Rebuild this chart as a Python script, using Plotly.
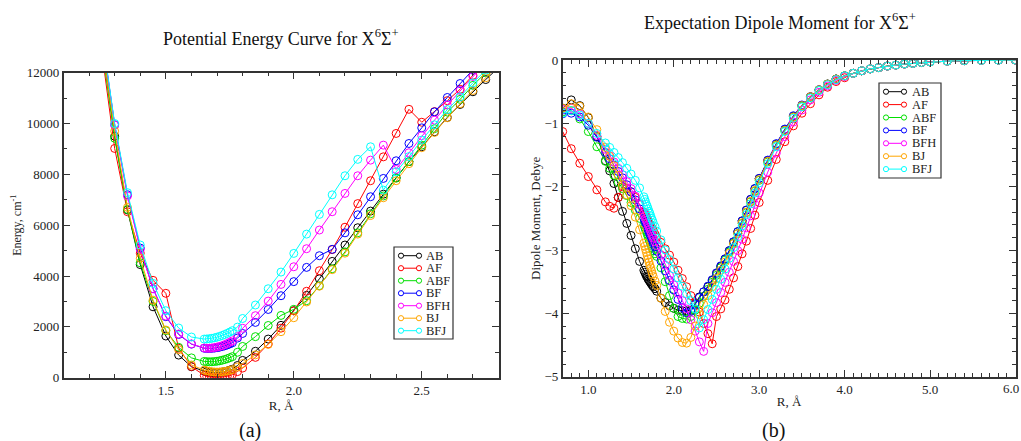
import plotly.graph_objects as go

# ---------------- data: potential energy curves (cm^-1) ----------------
R_energy = [1.25, 1.3, 1.35, 1.4, 1.45, 1.5, 1.55, 1.6,
            1.65, 1.66, 1.67, 1.68, 1.69, 1.70, 1.71, 1.72, 1.73, 1.74, 1.75, 1.76, 1.78, 1.8,
            1.85, 1.9, 1.95, 2.0, 2.05, 2.1, 2.15, 2.2, 2.25, 2.3, 2.35, 2.4, 2.45, 2.5,
            2.55, 2.6, 2.65, 2.7, 2.75, 2.8]

E_AB = [13200, 9500, 6600, 4450, 2790, 1640, 890, 430,
        260, 235, 218, 205, 200, 200, 207, 220, 240, 265, 298, 335, 480, 680,
        1040, 1520, 2060, 2635, 3240, 3890, 4575, 5220, 5900, 6555, 7220, 7870, 8500, 9085,
        9675, 10240, 10750, 11250, 11730, 12200]
E_AF = [12800, 9020, 6530, 4900, 3830, 3320, 1160, 440,
        90, 50, 25, 10, 2, 0, 5, 15, 30, 55, 85, 120, 240, 380,
        800, 1330, 1950, 2630, 3400, 4210, 5040, 5920, 6850, 7750, 8690, 9610, 10560, 10050,
        10470, 10900, 11350, 11900, 12450, 13000]
E_ABF = [13000, 9420, 6620, 4520, 3000, 1850, 1195, 780,
         640, 630, 625, 628, 635, 648, 665, 688, 715, 748, 785, 828, 1000, 1230,
         1615, 2055, 2450, 2690, 3030, 3620, 4285, 4950, 5700, 6450, 7150, 7850, 8500, 9150,
         9800, 10450, 10950, 11500, 12000, 12500]
E_BF = [13500, 9950, 7200, 5100, 3500, 2400, 1700, 1320,
        1160, 1150, 1150, 1155, 1165, 1180, 1200, 1225, 1255, 1290, 1330, 1375, 1560, 1740,
        2175, 2685, 3225, 3780, 4340, 4800, 5050, 5700, 6410, 7120, 7840, 8535, 9215, 9830,
        10460, 11025, 11575, 12100, 12650, 13200]
E_BFH = [13450, 9940, 7150, 5050, 3500, 2425, 1720, 1330,
         1170, 1160, 1160, 1170, 1185, 1205, 1230, 1260, 1300, 1345, 1395, 1450, 1620, 1945,
         2440, 3015, 3670, 4365, 5075, 5810, 6530, 7250, 7945, 8560, 9150, 8195, 8850, 9520,
         10135, 10725, 11300, 11850, 12400, 12950]
E_BJ = [13100, 9700, 6700, 4700, 3050, 1875, 1100, 500,
        300, 270, 250, 235, 225, 222, 225, 233, 247, 265, 290, 318, 420, 560,
        900, 1310, 1810, 2360, 2980, 3600, 4250, 4900, 5650, 6380, 7080, 7750, 8420, 9050,
        9650, 10230, 10780, 11300, 11800, 12300]
E_BFJ = [13550, 10000, 7280, 5220, 3710, 2635, 1955, 1600,
         1520, 1525, 1535, 1550, 1570, 1595, 1625, 1660, 1700, 1745, 1795, 1850, 1990, 2330,
         2860, 3500, 4155, 4890, 5650, 6425, 7195, 7945, 8590, 9085, 7380, 8100, 8700, 9350,
         9950, 10550, 11050, 11600, 12100, 12600]

# ---------------- data: dipole moment (Debye) ----------------
R_dipole = [0.7, 0.8, 0.9, 1.0, 1.1, 1.2, 1.25, 1.3, 1.35, 1.4, 1.45, 1.5, 1.55, 1.6,
            1.65, 1.66, 1.67, 1.68, 1.69, 1.70, 1.71, 1.72, 1.73, 1.74, 1.75, 1.76, 1.78, 1.8,
            1.85, 1.9, 1.95, 2.0, 2.05, 2.1, 2.15, 2.2, 2.25, 2.3, 2.35, 2.4, 2.45, 2.5,
            2.55, 2.6, 2.65, 2.7, 2.75, 2.8, 2.85, 2.9, 2.95, 3.0,
            3.1, 3.2, 3.3, 3.4, 3.5, 3.6, 3.7, 3.8, 3.9, 4.0,
            4.1, 4.2, 4.3, 4.4, 4.5, 4.6, 4.7, 4.8, 4.9, 5.0, 5.2, 5.4, 5.6, 5.8, 6.0]

# common long-range tail (4.1 ... 6.0), identical for all sets
D_tail = [-0.21, -0.17, -0.14, -0.12, -0.095, -0.08, -0.063, -0.053, -0.04, -0.03,
          -0.018, -0.01, -0.005, -0.002, -0.001]

D_AB = [-0.76, -0.63, -0.72, -0.91, -1.21, -1.59, -1.75, -1.95, -2.17, -2.39, -2.58, -2.77, -2.98, -3.18,
        -3.32, -3.35, -3.38, -3.41, -3.43, -3.46, -3.48, -3.50, -3.52, -3.54, -3.56, -3.58, -3.61, -3.65,
        -3.76, -3.83, -3.88, -3.92, -3.95, -3.96, -3.96, -3.95, -3.84, -3.74, -3.66, -3.58, -3.48, -3.37,
        -3.26, -3.14, -3.01, -2.87, -2.71, -2.54, -2.37, -2.20, -2.03, -1.87,
        -1.59, -1.33, -1.10, -0.89, -0.72, -0.58, -0.47, -0.38, -0.30, -0.25]
D_AF = [-1.13, -1.40, -1.63, -1.84, -2.05, -2.24, -2.31, -2.34, -2.17, -2.00, -2.03, -2.08, -2.17, -2.28,
        -2.40, -2.43, -2.45, -2.48, -2.51, -2.53, -2.56, -2.59, -2.61, -2.64, -2.67, -2.69, -2.75, -2.80,
        -2.88, -2.98, -3.08, -3.19, -3.32, -3.45, -3.58, -3.72, -3.84, -3.98, -4.16, -4.32, -4.48, -4.05,
        -3.93, -3.79, -3.62, -3.44, -3.26, -3.06, -2.86, -2.66, -2.45, -2.25,
        -1.90, -1.57, -1.29, -1.04, -0.84, -0.69, -0.55, -0.43, -0.34, -0.28]
D_ABF = [-0.82, -0.80, -0.93, -1.13, -1.37, -1.60, -1.71, -1.82, -1.93, -2.03, -2.14, -2.25, -2.37, -2.50,
         -2.60, -2.64, -2.68, -2.71, -2.75, -2.79, -2.83, -2.86, -2.90, -2.94, -2.97, -3.01, -3.06, -3.10,
         -3.28, -3.50, -3.72, -3.92, -4.05, -4.08, -4.09, -4.05, -3.95, -3.84, -3.73, -3.62, -3.51, -3.40,
         -3.28, -3.16, -3.03, -2.89, -2.74, -2.58, -2.41, -2.24, -2.07, -1.90,
         -1.61, -1.35, -1.12, -0.90, -0.73, -0.59, -0.48, -0.38, -0.30, -0.25]
D_BF = [-0.85, -0.84, -0.90, -1.03, -1.22, -1.46, -1.56, -1.66, -1.76, -1.86, -1.97, -2.08, -2.21, -2.35,
        -2.50, -2.54, -2.57, -2.61, -2.64, -2.68, -2.71, -2.75, -2.78, -2.82, -2.85, -2.89, -2.95, -3.02,
        -3.17, -3.33, -3.48, -3.63, -3.78, -3.91, -3.99, -3.97, -3.86, -3.75, -3.66, -3.57, -3.47, -3.36,
        -3.25, -3.14, -3.01, -2.87, -2.71, -2.54, -2.37, -2.20, -2.03, -1.87,
        -1.58, -1.32, -1.09, -0.88, -0.71, -0.58, -0.47, -0.38, -0.30, -0.25]
D_BFH = [-0.78, -0.76, -0.85, -1.00, -1.19, -1.41, -1.51, -1.61, -1.71, -1.81, -1.92, -2.03, -2.15, -2.28,
         -2.42, -2.46, -2.50, -2.53, -2.57, -2.60, -2.64, -2.67, -2.71, -2.74, -2.78, -2.81, -2.87, -2.93,
         -3.08, -3.24, -3.40, -3.55, -3.68, -3.80, -3.93, -4.10, -4.28, -4.45, -4.60, -4.16, -3.99, -3.83,
         -3.67, -3.51, -3.35, -3.18, -3.01, -2.83, -2.65, -2.46, -2.28, -2.10,
         -1.77, -1.47, -1.21, -0.98, -0.79, -0.63, -0.51, -0.41, -0.32, -0.26]
D_BJ = [-0.76, -0.69, -0.73, -0.90, -1.10, -1.38, -1.52, -1.67, -1.82, -1.97, -2.13, -2.30, -2.48, -2.68,
        -2.89, -2.94, -2.99, -3.04, -3.09, -3.14, -3.19, -3.24, -3.28, -3.33, -3.38, -3.42, -3.49, -3.56,
        -3.76, -3.97, -4.14, -4.28, -4.39, -4.46, -4.47, -4.38, -4.20, -4.02, -3.86, -3.72, -3.58, -3.45,
        -3.32, -3.19, -3.05, -2.90, -2.74, -2.57, -2.40, -2.23, -2.06, -1.89,
        -1.60, -1.34, -1.11, -0.90, -0.72, -0.58, -0.47, -0.38, -0.30, -0.25]
D_BFJ = [-0.84, -0.80, -0.87, -1.00, -1.16, -1.31, -1.38, -1.46, -1.54, -1.62, -1.71, -1.80, -1.90, -2.02,
         -2.16, -2.20, -2.24, -2.28, -2.31, -2.35, -2.39, -2.42, -2.46, -2.50, -2.53, -2.57, -2.63, -2.70,
         -2.84, -3.00, -3.15, -3.30, -3.44, -3.57, -3.69, -3.80, -3.93, -4.23, -4.10, -3.94, -3.78, -3.62,
         -3.46, -3.30, -3.13, -2.96, -2.79, -2.62, -2.44, -2.27, -2.10, -1.94,
         -1.64, -1.37, -1.13, -0.92, -0.74, -0.60, -0.48, -0.39, -0.31, -0.25]

# x tick labels of the dipole panel (the last one sits at the right page edge)
dipole_xtick_vals = [1.0, 2.0, 3.0, 4.0, 5.0]
dipole_xtick_text = ["1.0", "2.0", "3.0", "4.0", "5.0"]
dipole_edge_label = "6.0"

series_names = ["AB", "AF", "ABF", "BF", "BFH", "BJ", "BFJ"]
energy_sets = [E_AB, E_AF, E_ABF, E_BF, E_BFH, E_BJ, E_BFJ]
dipole_sets = [D_AB, D_AF, D_ABF, D_BF, D_BFH, D_BJ, D_BFJ]
colors = ["#000000", "#ff0000", "#00e000", "#0000ff", "#ff00ff", "#ffa500", "#00ffff"]

SERIF = "Liberation Serif, Times New Roman, serif"
W, H = 1021, 441


def px_x(p):
    return p / W


def px_y(p):
    return 1 - p / H


fig = go.Figure()

for name, e, col in zip(series_names, energy_sets, colors):
    fig.add_trace(go.Scatter(
        x=R_energy, y=e, name=name, mode="lines+markers", showlegend=False,
        line=dict(color=col, width=1),
        marker=dict(symbol="circle-open", size=8, color=col, line=dict(width=1, color=col)),
        xaxis="x", yaxis="y"))

for name, d, col in zip(series_names, dipole_sets, colors):
    fig.add_trace(go.Scatter(
        x=R_dipole, y=d + D_tail, name=name, mode="lines+markers", showlegend=False,
        line=dict(color=col, width=1),
        marker=dict(symbol="circle-open", size=8, color=col, line=dict(width=1, color=col)),
        xaxis="x2", yaxis="y2"))

# ---------- xmgrace-style legend boxes ("o--o NAME"), in page pixels ----------
shapes = []
annotations = []


def add_legend(box_l, box_t, box_r, box_b, first_row_y, row_step, c1_x, c2_x, text_x):
    shapes.append(dict(type="rect", xref="paper", yref="paper",
                       x0=px_x(box_l), x1=px_x(box_r), y0=px_y(box_b), y1=px_y(box_t),
                       line=dict(color="#333333", width=1.2), fillcolor="white", layer="above"))
    r = 2.6
    for i, (name, col) in enumerate(zip(series_names, colors)):
        yy = first_row_y + i * row_step
        shapes.append(dict(type="line", xref="paper", yref="paper",
                           x0=px_x(c1_x), x1=px_x(c2_x), y0=px_y(yy), y1=px_y(yy),
                           line=dict(color=col, width=1), layer="above"))
        for cx in (c1_x, c2_x):
            shapes.append(dict(type="circle", xref="paper", yref="paper",
                               x0=px_x(cx - r), x1=px_x(cx + r), y0=px_y(yy + r), y1=px_y(yy - r),
                               line=dict(color=col, width=1), fillcolor="white", layer="above"))
        annotations.append(dict(text=name, x=px_x(text_x), y=px_y(yy), xref="paper", yref="paper",
                                showarrow=False, xanchor="left", yanchor="middle",
                                height=12, borderpad=0,
                                font=dict(family=SERIF, size=12.5, color="#222222")))


add_legend(394, 247, 453, 339, 255.7, 12.5, 401, 419, 425)
add_legend(879, 83, 941, 178, 91.7, 12.9, 886, 904, 911)

annotations += [
    dict(text="Potential Energy Curve for X<sup>6</sup>Σ<sup>+</sup>", x=px_x(281), y=px_y(38),
         xref="paper", yref="paper", showarrow=False, xanchor="center", yanchor="middle",
         font=dict(family=SERIF, size=18, color="#111111")),
    dict(text="Expectation Dipole Moment for X<sup>6</sup>Σ<sup>+</sup>", x=px_x(780), y=px_y(22),
         xref="paper", yref="paper", showarrow=False, xanchor="center", yanchor="middle",
         font=dict(family=SERIF, size=18, color="#111111")),
    dict(text="(a)", x=px_x(250), y=px_y(430), xref="paper", yref="paper", showarrow=False,
         xanchor="center", yanchor="middle", font=dict(family=SERIF, size=20, color="#111111")),
    dict(text="(b)", x=px_x(773), y=px_y(430), xref="paper", yref="paper", showarrow=False,
         xanchor="center", yanchor="middle", font=dict(family=SERIF, size=20, color="#111111")),
    # last x tick label of the dipole panel, kept fully inside the page
    dict(text=dipole_edge_label, x=px_x(1020), y=px_y(379.5), xref="paper", yref="paper",
         showarrow=False, xanchor="right", yanchor="top", borderpad=0,
         font=dict(family=SERIF, size=13, color="#222222")),
]

axis_common = dict(
    showline=True, linecolor="#333333", linewidth=1.5, mirror="allticks",
    ticks="inside", ticklen=7, tickwidth=1, tickcolor="#333333",
    showgrid=False, zeroline=False, automargin=False,
    tickfont=dict(family=SERIF, size=13, color="#222222"),
)
minor_common = dict(ticks="inside", ticklen=4, tickcolor="#333333", showgrid=False)

fig.update_layout(
    width=W, height=H, autosize=False,
    margin=dict(l=0, r=0, t=0, b=0),
    paper_bgcolor="white", plot_bgcolor="white",
    showlegend=False,
    xaxis=dict(domain=[px_x(63.5), px_x(498.5)], range=[1.1, 2.8], anchor="y",
               tick0=1.5, dtick=0.5, tickformat=".1f",
               minor=dict(dtick=0.1, tick0=1.1, **minor_common),
               title=dict(text="R, Å", font=dict(family=SERIF, size=13, color="#222222"), standoff=0),
               **axis_common),
    yaxis=dict(domain=[px_y(377.7), px_y(72.7)], range=[0, 12000], anchor="x",
               tick0=0, dtick=2000, tickformat="d",
               minor=dict(dtick=1000, **minor_common),
               title=dict(text="Energy, cm<sup>-1</sup>", font=dict(family=SERIF, size=12, color="#222222"), standoff=2),
               **axis_common),
    xaxis2=dict(domain=[px_x(562.7), px_x(1015.5)], range=[0.7, 6.0], anchor="y2",
                tickmode="array", tickvals=dipole_xtick_vals, ticktext=dipole_xtick_text,
                minor=dict(dtick=0.1, tick0=0.7, **minor_common),
                title=dict(text="R, Å", font=dict(family=SERIF, size=13, color="#222222"), standoff=1),
                **axis_common),
    yaxis2=dict(domain=[px_y(376.7), px_y(60)], range=[-5, 0], anchor="x2",
                tick0=0, dtick=1, tickformat="d",
                minor=dict(dtick=0.2, **minor_common),
                title=dict(text="Dipole Moment, Debye", font=dict(family=SERIF, size=13, color="#222222"), standoff=1),
                **axis_common),
    shapes=shapes,
    annotations=annotations,
)

fig.write_html("out.html")
